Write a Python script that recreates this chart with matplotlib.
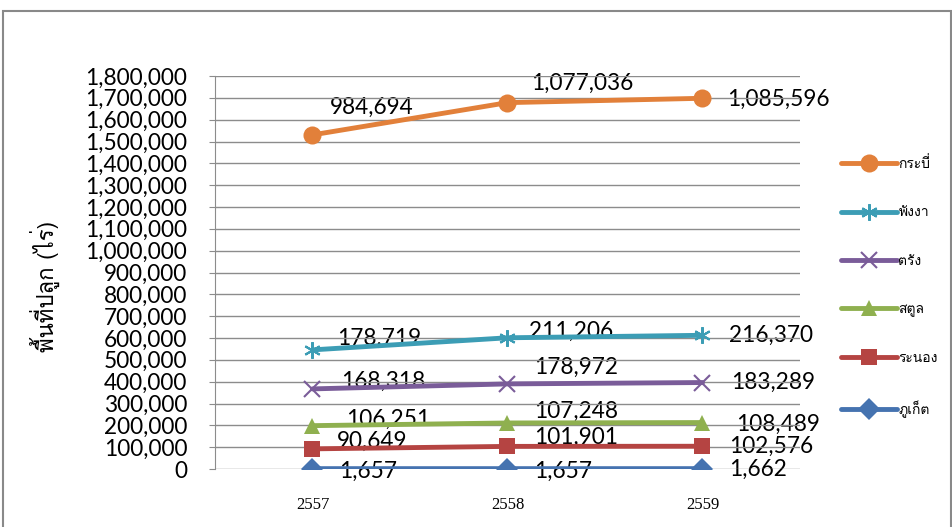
import numpy as np
import matplotlib
matplotlib.use("Agg")
import matplotlib.pyplot as plt
from matplotlib import font_manager
from matplotlib.ft2font import FT2Font
from matplotlib.patches import Rectangle

years = ["2557", "2558", "2559"]
provinces = ["ภูเก็ต", "ระนอง", "สตูล", "ตรัง", "พังงา", "กระบี่"]
phuket = [1657, 1657, 1662]
ranong = [90649, 101901, 102576]
satun = [106251, 107248, 108489]
trang = [168318, 178972, 183289]
phangnga = [178719, 211206, 216370]
krabi = [984694, 1077036, 1085596]
y_label = "พื้นที่ปลูก (ไร่)"

series = [phuket, ranong, satun, trang, phangnga, krabi]
colors = ["#4573B0", "#B54442", "#8FB04F", "#7A5C99", "#3C9DB5", "#E2803A"]
markers = ["D", "s", "^", "x", (6, 2, 0), "o"]
msizes = [11, 12, 12, 11, 12, 13]
# label offsets in pixels (dx, dy) from each point
offsets = [
    [(27, -3), (27, -3), (27, -1)],
    [(24, 8), (27, 9), (27, 0)],
    [(34, 6), (27, 12), (34, -2)],
    [(29, 8), (27, 17), (29, 0)],
    [(25, 12), (22, 6), (27, 0)],
    [(17, 28), (24, 19), (25, -1)],
]


def find_thai_font():
    found = []
    for f in font_manager.fontManager.ttflist:
        try:
            if ord("ก") in FT2Font(f.fname).get_charmap():
                found.append(f)
        except Exception:
            pass
    regular = [f for f in found if f.weight in (400, "normal", "regular") and f.style == "normal"]
    pick = regular or found
    return pick[0].name if pick else "DejaVu Sans"


thai = find_thai_font()
plt.rcParams["font.family"] = ["Lato", "DejaVu Sans", thai]
num_size = 16.3

fig = plt.figure(figsize=(9.53, 5.27), dpi=100)
ax = fig.add_axes([215 / 953, 58 / 527, 585 / 953, 393 / 527])

x = np.arange(len(years))
stacked = np.cumsum(np.array(series, dtype=float), axis=0)

handles = []
for i in range(len(series)):
    hollow = markers[i] in ("x", (6, 2, 0))
    (ln,) = ax.plot(x, stacked[i], color=colors[i], lw=3.5, marker=markers[i],
                    ms=msizes[i], mfc=colors[i], mec=colors[i],
                    mew=1.5 if hollow else 0,
                    solid_capstyle="round", zorder=4 + i, label=provinces[i])
    handles.append(ln)
    for j in range(len(years)):
        dx, dy = offsets[i][j]
        ax.annotate(f"{series[i][j]:,}", (x[j], stacked[i][j]),
                    xytext=(dx * 0.72, dy * 0.72), textcoords="offset points",
                    ha="left", va="center", fontsize=num_size, color="black", zorder=1)

ax.set_xlim(-0.5, len(years) - 0.5)
ax.set_ylim(0, 1800000)
ticks = np.arange(0, 1800001, 100000)
ax.set_yticks(ticks)
ax.set_yticklabels([f"{v:,}" for v in ticks], fontsize=num_size)
ax.set_xticks(x)
ax.set_xticklabels(years, fontsize=12, family="Liberation Serif")
ax.tick_params(axis="x", length=0, pad=20)
ax.tick_params(axis="y", length=4, color="#8c8c8c", pad=16)
ax.grid(axis="y", color="#8c8c8c", lw=1, zorder=2)
ax.set_axisbelow(False)
for s in ["top", "right", "bottom"]:
    ax.spines[s].set_visible(False)
ax.spines["left"].set_color("#8c8c8c")

fig.text(45 / 953, 1 - 286 / 527, y_label, rotation=90, ha="center", va="center",
         fontsize=16, fontweight="normal", family=[thai, "DejaVu Sans"])

fig.legend(handles[::-1], provinces[::-1], loc="center left",
           bbox_to_anchor=(829 / 953, 1 - 287 / 527), frameon=False,
           handlelength=4.0, handletextpad=0.1, labelspacing=2.55,
           prop={"family": [thai, "DejaVu Sans"], "size": 10, "weight": "normal"})

fig.patches.append(Rectangle((3 / 953, -0.05), 948 / 953, 1.05 - 10.5 / 527,
                             transform=fig.transFigure, fill=False,
                             edgecolor="#898989", lw=1.5))

fig.savefig("out.png", dpi=100)
